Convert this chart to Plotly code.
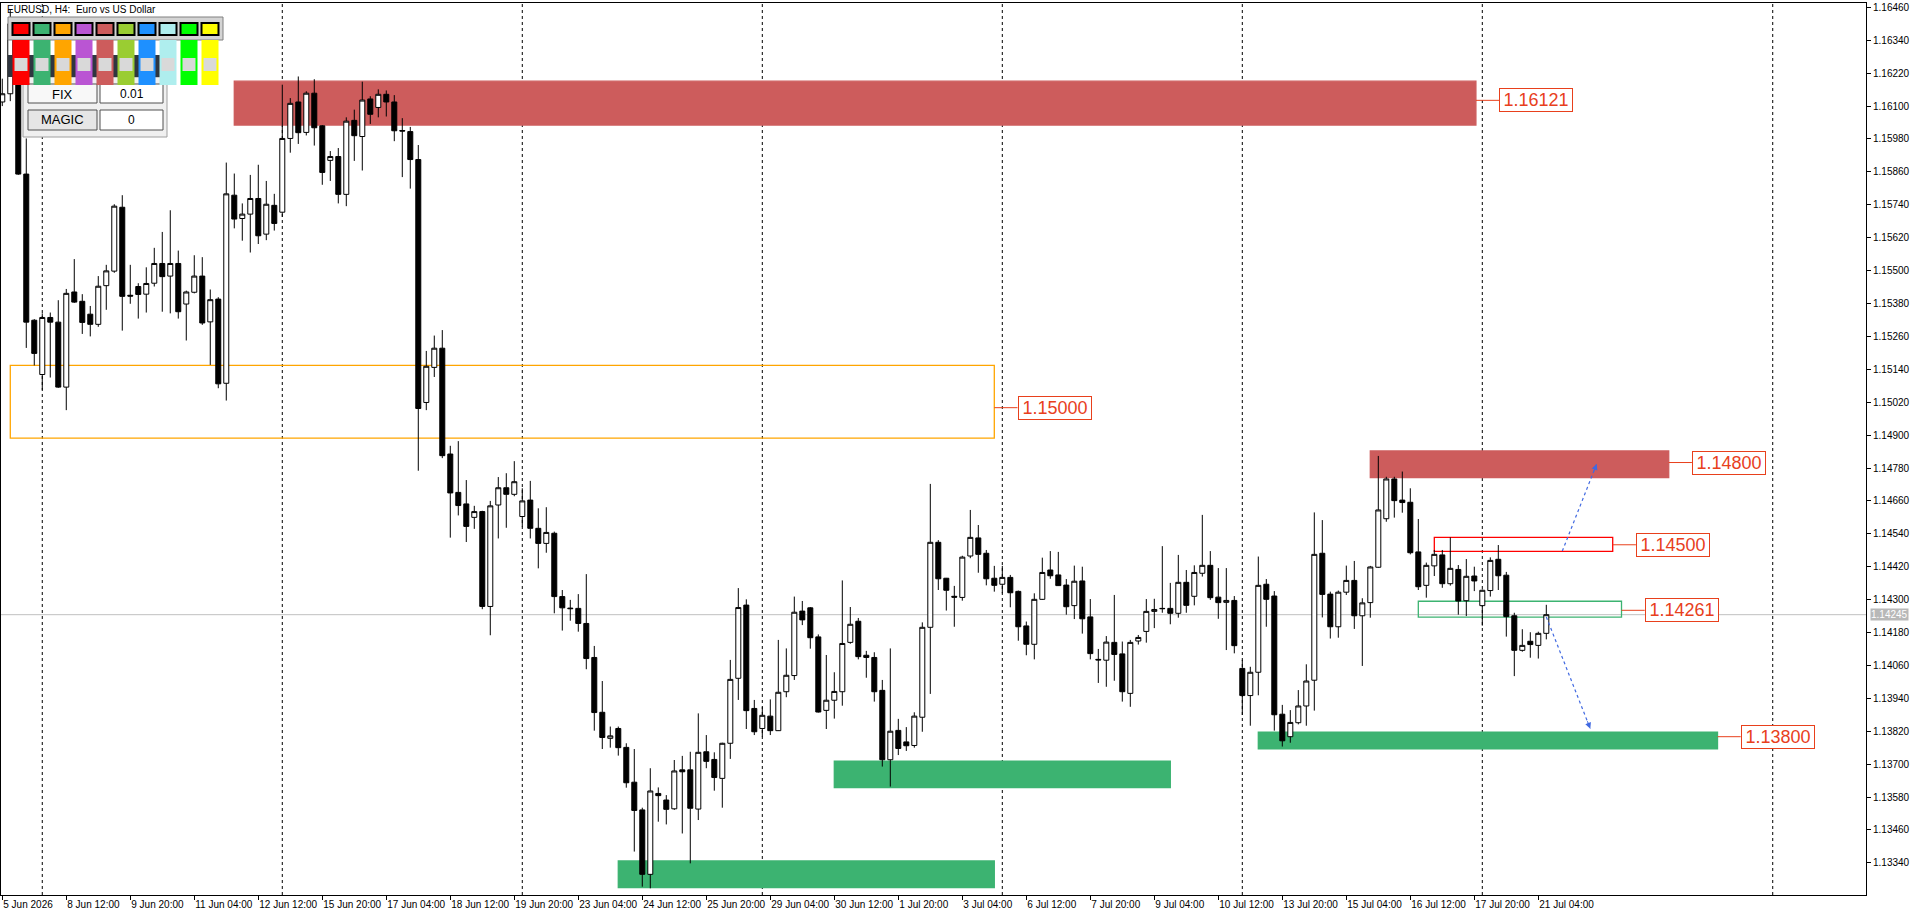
import plotly.graph_objects as go

# ---------------- data (EURUSD H4, bar index 0 = 5 Jun 2026 04:00) ----------------
opens = [1.16115, 1.16145, 1.16400, 1.15852, 1.15319, 1.15121, 1.15329, 1.15312, 1.15075, 1.15422,
         1.15388, 1.15341, 1.15304, 1.15445, 1.15498, 1.15731, 1.15410, 1.15442, 1.15414, 1.15454,
         1.15526, 1.15480, 1.15526, 1.15378, 1.15421, 1.15480, 1.15313, 1.15396, 1.15089, 1.15775,
         1.15690, 1.15706, 1.15763, 1.15633, 1.15738, 1.15713, 1.15982, 1.16115, 1.16004, 1.16147,
         1.16028, 1.15902, 1.15916, 1.15778, 1.16048, 1.15989, 1.16126, 1.16095, 1.16143, 1.16115,
         1.16011, 1.16007, 1.15905, 1.15019, 1.15147, 1.15217, 1.14831, 1.14691, 1.14649, 1.14600,
         1.14621, 1.14275, 1.14645, 1.14708, 1.14684, 1.14603, 1.14663, 1.14560, 1.14505, 1.14542,
         1.14311, 1.14269, 1.14268, 1.14213, 1.14089, 1.13889, 1.13794, 1.13830, 1.13761, 1.13634,
         1.13533, 1.13298, 1.13593, 1.13569, 1.13537, 1.13679, 1.13679, 1.13536, 1.13745, 1.13717,
         1.13648, 1.13776, 1.14013, 1.14280, 1.13903, 1.13830, 1.13875, 1.13822, 1.13964, 1.14023,
         1.14258, 1.14270, 1.14164, 1.13896, 1.13933, 1.13964, 1.14144, 1.14221, 1.14097, 1.14089,
         1.13969, 1.13716, 1.13823, 1.13781, 1.13768, 1.13871, 1.14199, 1.14509, 1.14378, 1.14312,
         1.14308, 1.14459, 1.14525, 1.14469, 1.14378, 1.14356, 1.14381, 1.14330, 1.14204, 1.14137,
         1.14301, 1.14408, 1.14390, 1.14353, 1.14278, 1.14368, 1.14237, 1.14082, 1.14079, 1.14144,
         1.14102, 1.13958, 1.14149, 1.14184, 1.14257, 1.14268, 1.14268, 1.14250, 1.14363, 1.14312,
         1.14396, 1.14425, 1.14309, 1.14290, 1.14297, 1.14049, 1.13950, 1.14035, 1.14356, 1.14313,
         1.13882, 1.13800, 1.13851, 1.13912, 1.14006, 1.14469, 1.14320, 1.14201, 1.14327, 1.14370,
         1.14241, 1.14289, 1.14418, 1.14595, 1.14740, 1.14663, 1.14655, 1.14474, 1.14352, 1.14423,
         1.14463, 1.14358, 1.14410, 1.14296, 1.14386, 1.14278, 1.14333, 1.14447, 1.14389, 1.14241,
         1.14115, 1.14148, 1.14133, 1.14177]
highs = [1.16200, 1.16450, 1.16420, 1.15982, 1.15323, 1.15344, 1.15347, 1.15392, 1.15433, 1.15542,
         1.15414, 1.15371, 1.15480, 1.15521, 1.15742, 1.15775, 1.15521, 1.15454, 1.15512, 1.15583,
         1.15641, 1.15720, 1.15573, 1.15427, 1.15556, 1.15549, 1.15431, 1.15403, 1.15894, 1.15854,
         1.15745, 1.15849, 1.15886, 1.15827, 1.15780, 1.16178, 1.16129, 1.16208, 1.16154, 1.16198,
         1.16031, 1.15936, 1.15947, 1.16059, 1.16087, 1.16189, 1.16136, 1.16161, 1.16157, 1.16140,
         1.16056, 1.16024, 1.15958, 1.15207, 1.15263, 1.15283, 1.14861, 1.14878, 1.14736, 1.14642,
         1.14624, 1.14660, 1.14747, 1.14761, 1.14805, 1.14706, 1.14733, 1.14633, 1.14637, 1.14548,
         1.14335, 1.14299, 1.14320, 1.14393, 1.14131, 1.14003, 1.13837, 1.13837, 1.13776, 1.13755,
         1.13541, 1.13685, 1.13615, 1.13587, 1.13715, 1.13730, 1.13745, 1.13885, 1.13806, 1.13743,
         1.13778, 1.14080, 1.14342, 1.14301, 1.13934, 1.13909, 1.13936, 1.14153, 1.14122, 1.14311,
         1.14295, 1.14273, 1.14173, 1.14098, 1.14035, 1.14370, 1.14273, 1.14233, 1.14113, 1.14108,
         1.14007, 1.14122, 1.13865, 1.13835, 1.13889, 1.14217, 1.14722, 1.14517, 1.14379, 1.14350,
         1.14460, 1.14627, 1.14572, 1.14481, 1.14423, 1.14423, 1.14390, 1.14333, 1.14220, 1.14323,
         1.14453, 1.14477, 1.14474, 1.14375, 1.14424, 1.14420, 1.14302, 1.14120, 1.14167, 1.14317,
         1.14147, 1.14153, 1.14171, 1.14302, 1.14303, 1.14495, 1.14361, 1.14463, 1.14408, 1.14425,
         1.14609, 1.14477, 1.14415, 1.14415, 1.14313, 1.14080, 1.14055, 1.14457, 1.14375, 1.14331,
         1.13916, 1.13897, 1.13970, 1.14064, 1.14618, 1.14590, 1.14329, 1.14333, 1.14424, 1.14441,
         1.14305, 1.14423, 1.14824, 1.14748, 1.14748, 1.14767, 1.14706, 1.14594, 1.14435, 1.14481,
         1.14481, 1.14527, 1.14426, 1.14448, 1.14420, 1.14337, 1.14454, 1.14499, 1.14401, 1.14252,
         1.14192, 1.14181, 1.14183, 1.14281]
lows = [1.16100, 1.16118, 1.15849, 1.15218, 1.15154, 1.15065, 1.15110, 1.15072, 1.14991, 1.15382,
        1.15269, 1.15260, 1.15295, 1.15357, 1.15492, 1.15281, 1.15379, 1.15325, 1.15347, 1.15442,
        1.15350, 1.15344, 1.15325, 1.15245, 1.15417, 1.15302, 1.15156, 1.15071, 1.15026, 1.15654,
        1.15609, 1.15566, 1.15597, 1.15611, 1.15646, 1.15696, 1.15930, 1.15962, 1.15993, 1.15956,
        1.15813, 1.15827, 1.15745, 1.15735, 1.15900, 1.15865, 1.16035, 1.16059, 1.16062, 1.15972,
        1.15841, 1.15799, 1.14770, 1.14991, 1.15112, 1.14816, 1.14526, 1.14607, 1.14510, 1.14558,
        1.14265, 1.14170, 1.14523, 1.14562, 1.14677, 1.14566, 1.14523, 1.14414, 1.14471, 1.14250,
        1.14187, 1.14223, 1.14183, 1.14046, 1.13822, 1.13755, 1.13760, 1.13731, 1.13614, 1.13381,
        1.13253, 1.13247, 1.13490, 1.13480, 1.13533, 1.13447, 1.13338, 1.13496, 1.13685, 1.13603,
        1.13541, 1.13719, 1.13934, 1.13828, 1.13806, 1.13800, 1.13806, 1.13821, 1.13944, 1.14007,
        1.14207, 1.14121, 1.13888, 1.13828, 1.13866, 1.13913, 1.14139, 1.14082, 1.14015, 1.13928,
        1.13691, 1.13618, 1.13733, 1.13748, 1.13760, 1.13818, 1.13956, 1.14335, 1.14260, 1.14201,
        1.14296, 1.14451, 1.14398, 1.14352, 1.14329, 1.14323, 1.14272, 1.14150, 1.14097, 1.14082,
        1.14299, 1.14376, 1.14350, 1.14245, 1.14229, 1.14176, 1.14082, 1.13996, 1.13982, 1.14004,
        1.13928, 1.13909, 1.14136, 1.14143, 1.14196, 1.14252, 1.14210, 1.14234, 1.14252, 1.14279,
        1.14384, 1.14299, 1.14230, 1.14116, 1.14104, 1.13879, 1.13840, 1.13951, 1.14201, 1.13822,
        1.13764, 1.13778, 1.13845, 1.13840, 1.13895, 1.14235, 1.14158, 1.14161, 1.14317, 1.14193,
        1.14058, 1.14234, 1.14416, 1.14584, 1.14599, 1.14617, 1.14465, 1.14335, 1.14307, 1.14386,
        1.14343, 1.14351, 1.14245, 1.14240, 1.14331, 1.14205, 1.14311, 1.14335, 1.14165, 1.14021,
        1.14110, 1.14088, 1.14085, 1.14155]
closes = [1.16145, 1.16400, 1.15852, 1.15312, 1.15198, 1.15329, 1.15312, 1.15075, 1.15417, 1.15385,
          1.15311, 1.15304, 1.15443, 1.15499, 1.15735, 1.15406, 1.15407, 1.15413, 1.15453, 1.15526,
          1.15478, 1.15526, 1.15350, 1.15422, 1.15480, 1.15309, 1.15394, 1.15087, 1.15780, 1.15688,
          1.15706, 1.15763, 1.15627, 1.15742, 1.15672, 1.15982, 1.16110, 1.16003, 1.16147, 1.16021,
          1.15858, 1.15916, 1.15778, 1.16045, 1.15992, 1.16122, 1.16070, 1.16143, 1.16115, 1.16010,
          1.16009, 1.15905, 1.14997, 1.15151, 1.15217, 1.14825, 1.14689, 1.14643, 1.14567, 1.14621,
          1.14275, 1.14642, 1.14708, 1.14684, 1.14730, 1.14660, 1.14560, 1.14505, 1.14545, 1.14311,
          1.14270, 1.14267, 1.14213, 1.14085, 1.13888, 1.13797, 1.13803, 1.13760, 1.13632, 1.13531,
          1.13298, 1.13602, 1.13585, 1.13535, 1.13675, 1.13672, 1.13539, 1.13743, 1.13710, 1.13651,
          1.13776, 1.14009, 1.14271, 1.13895, 1.13818, 1.13878, 1.13822, 1.13962, 1.14024, 1.14254,
          1.14226, 1.14161, 1.13890, 1.13933, 1.13965, 1.14140, 1.14210, 1.14092, 1.14089, 1.13964,
          1.13716, 1.13820, 1.13757, 1.13767, 1.13875, 1.14199, 1.14509, 1.14376, 1.14334, 1.14309,
          1.14455, 1.14527, 1.14465, 1.14376, 1.14352, 1.14381, 1.14325, 1.14201, 1.14137, 1.14301,
          1.14399, 1.14387, 1.14351, 1.14274, 1.14367, 1.14230, 1.14103, 1.14080, 1.14145, 1.14100,
          1.13964, 1.14144, 1.14162, 1.14257, 1.14264, 1.14267, 1.14250, 1.14363, 1.14279, 1.14399,
          1.14425, 1.14307, 1.14289, 1.14297, 1.14132, 1.13950, 1.14035, 1.14352, 1.14301, 1.13880,
          1.13785, 1.13852, 1.13912, 1.14003, 1.14465, 1.14319, 1.14201, 1.14327, 1.14370, 1.14241,
          1.14288, 1.14419, 1.14627, 1.14740, 1.14661, 1.14654, 1.14471, 1.14347, 1.14425, 1.14465,
          1.14358, 1.14414, 1.14295, 1.14385, 1.14368, 1.14334, 1.14443, 1.14387, 1.14238, 1.14115,
          1.14133, 1.14136, 1.14177, 1.14245]
bars = list(range(len(opens)))

x_tick_bars = [0, 8, 16, 24, 32, 40, 48, 56, 64, 72, 80, 88, 96, 104, 112, 120, 128, 136, 144, 152,
               160, 168, 176, 184, 192]
x_tick_labels = ["5 Jun 2026", "8 Jun 12:00", "9 Jun 20:00", "11 Jun 04:00", "12 Jun 12:00",
                 "15 Jun 20:00", "17 Jun 04:00", "18 Jun 12:00", "19 Jun 20:00", "23 Jun 04:00",
                 "24 Jun 12:00", "25 Jun 20:00", "29 Jun 04:00", "30 Jun 12:00", "1 Jul 20:00",
                 "3 Jul 04:00", "6 Jul 12:00", "7 Jul 20:00", "9 Jul 04:00", "10 Jul 12:00",
                 "13 Jul 20:00", "15 Jul 04:00", "16 Jul 12:00", "17 Jul 20:00", "21 Jul 04:00"]
y_tick_values = [1.13340, 1.13460, 1.13580, 1.13700, 1.13820, 1.13940, 1.14060, 1.14180, 1.14300,
                 1.14420, 1.14540, 1.14660, 1.14780, 1.14900, 1.15020, 1.15140, 1.15260, 1.15380,
                 1.15500, 1.15620, 1.15740, 1.15860, 1.15980, 1.16100, 1.16220, 1.16340, 1.16460]

week_separator_bars = [5, 35, 65, 95, 125, 155, 185, 221.3]
bid_price = 1.14245

# drawn zones (start bar, end bar, top price, bottom price, level label)
zone_start = [29, 1, 171, 179, 177, 157, 77, 104]
zone_end = [184.2, 124, 208.3, 201.3, 202.4, 214.4, 124, 146]
zone_top = [1.16191, 1.15154, 1.14842, 1.14527, 1.14294, 1.13817, 1.13347, 1.13711]
zone_bottom = [1.16031, 1.14889, 1.14745, 1.14476, 1.14236, 1.13756, 1.13250, 1.13614]
zone_level = [1.16121, 1.15000, 1.14800, 1.14500, 1.14261, 1.13800, None, None]

# projection arrows (bar, price) start -> end
arrow_x = [[195.0, 199.3], [193.0, 198.5]]
arrow_y = [[1.14477, 1.14795], [1.14237, 1.13829]]

panel_colors = ["#FF0000", "#3CB371", "#FFA500", "#BA55D3", "#CD5C5C",
                "#9ACD32", "#1E90FF", "#AFEEEE", "#00FF00", "#FFFF00"]

# ---------------- styles ----------------
zone_styles = [
    dict(fill="#CD5C5C", line="#CD5C5C"),
    dict(fill="rgba(0,0,0,0)", line="#FFA500"),
    dict(fill="#CD5C5C", line="#CD5C5C"),
    dict(fill="rgba(0,0,0,0)", line="#FF0000"),
    dict(fill="rgba(0,0,0,0)", line="#3CB371"),
    dict(fill="#3CB371", line="#3CB371"),
    dict(fill="#3CB371", line="#3CB371"),
    dict(fill="#3CB371", line="#3CB371"),
]
LABEL_COLOR = "#E8401C"
LABEL_GAP = 2.9
FONT = "Liberation Sans"

W, H = 1920, 915
ML, MR, MT, MB = 1, 54, 3, 20
PW, PH = W - ML - MR, H - MT - MB


def PX(x):
    return (x - ML) / PW


def PY(y):
    return 1 - (y - MT) / PH


fig = go.Figure()

fig.add_trace(go.Candlestick(
    x=bars, open=opens, high=highs, low=lows, close=closes,
    increasing=dict(line=dict(color="black", width=1), fillcolor="white"),
    decreasing=dict(line=dict(color="black", width=1), fillcolor="black"),
    whiskerwidth=0, hoverinfo="skip", showlegend=False,
))

shapes = []
annotations = []

# week separators
for b in week_separator_bars:
    shapes.append(dict(type="line", xref="x", yref="paper", x0=b, x1=b, y0=0, y1=1,
                       line=dict(color="black", width=1, dash="3px,3px"), layer="below"))

# bid line
shapes.append(dict(type="line", xref="paper", yref="y", x0=0, x1=1, y0=bid_price, y1=bid_price,
                   line=dict(color="#C0C0C0", width=1), layer="below"))

# zones
for k in range(len(zone_start)):
    st = zone_styles[k]
    shapes.append(dict(type="rect", xref="x", yref="y", x0=zone_start[k], x1=zone_end[k],
                       y0=zone_bottom[k], y1=zone_top[k], fillcolor=st["fill"],
                       line=dict(color=st["line"], width=1.3), layer="below"))
    lvl = zone_level[k]
    if lvl is not None:
        shapes.append(dict(type="line", xref="x", yref="y", x0=zone_end[k], x1=zone_end[k] + LABEL_GAP,
                           y0=lvl, y1=lvl, line=dict(color=LABEL_COLOR, width=1), layer="above"))
        annotations.append(dict(xref="x", yref="y", x=zone_end[k] + LABEL_GAP, y=lvl,
                                xanchor="left", yanchor="middle", text=f"{lvl:.5f}", showarrow=False,
                                font=dict(family=FONT, size=18, color=LABEL_COLOR),
                                bgcolor="white", bordercolor=LABEL_COLOR, borderwidth=1, borderpad=1,
                                width=70, height=20))

# arrows
for xs, ys in zip(arrow_x, arrow_y):
    fig.add_trace(go.Scatter(x=xs, y=ys, mode="lines", hoverinfo="skip", showlegend=False,
                             line=dict(color="#4169E1", width=1.2, dash="dot")))
    up = ys[1] > ys[0]
    annotations.append(dict(xref="x", yref="y", x=xs[1], y=ys[1], ax=-3.5, ay=9 if up else -9,
                            axref="pixel", ayref="pixel", text="", showarrow=True, arrowhead=2,
                            arrowsize=1.2, arrowwidth=1, arrowcolor="#4169E1"))

# bid label on axis
annotations.append(dict(xref="paper", yref="y", x=1, y=bid_price, xanchor="left", yanchor="middle",
                        xshift=4, text=f"{bid_price:.5f}", showarrow=False, bgcolor="#B8B8B8",
                        font=dict(family=FONT, size=10, color="white"), borderpad=0))

# title
annotations.append(dict(xref="paper", yref="paper", x=PX(5), y=PY(9), xanchor="left", yanchor="middle",
                        text="EURUSD, H4:\u00a0 Euro vs US Dollar", showarrow=False,
                        font=dict(family=FONT, size=10, color="black")))


# ---------------- trading panel (top-left UI) ----------------
def rect_px(x0, y0, x1, y1, fill, line=None, lw=0):
    shapes.append(dict(type="rect", xref="paper", yref="paper", x0=PX(x0), x1=PX(x1),
                       y0=PY(y1), y1=PY(y0), fillcolor=fill,
                       line=dict(color=line if line else fill, width=lw), layer="above"))


def text_px(x, y, s, size=12):
    annotations.append(dict(xref="paper", yref="paper", x=PX(x), y=PY(y), xanchor="center",
                            yanchor="middle", text=s, showarrow=False,
                            font=dict(family=FONT, size=size, color="black")))


# lower panel with buttons
rect_px(23, 77, 167, 137, "#F0F0F0", "#A0A0A0", 1)
rect_px(28, 84, 97, 103, "#F8F8F8", "#505050", 1)
rect_px(100, 84, 163, 103, "#FFFFFF", "#505050", 1)
rect_px(28, 110, 97, 130, "#E6E6E6", "#505050", 1)
rect_px(100, 110, 163, 130, "#FFFFFF", "#505050", 1)
text_px(62.5, 94, "FIX", 13)
text_px(131.5, 94, "0.01", 12)
text_px(62.5, 120, "MAGIC", 13)
text_px(131.5, 120, "0", 12)

# colour toolbar
rect_px(8, 17, 223, 40, "#D4D4D4", "#808080", 1)
rect_px(8, 55, 167, 77, "#2F3640")
for k, c in enumerate(panel_colors):
    x0 = 12.5 + 21 * k
    rect_px(x0, 23, x0 + 17, 35, c, "black", 2)
    rect_px(x0, 40, x0 + 17, 85, c)
    rect_px(x0 + 2, 58, x0 + 15, 71, "#D9D9D9")

fig.update_layout(
    width=W, height=H,
    margin=dict(l=ML, r=MR, t=MT, b=MB, pad=0, autoexpand=False),
    paper_bgcolor="white", plot_bgcolor="white",
    showlegend=False,
    boxgap=0.375, boxgroupgap=0,
    shapes=shapes, annotations=annotations,
    xaxis=dict(range=[-0.16, 232.96], showgrid=False, zeroline=False, rangeslider=dict(visible=False),
               showline=True, linecolor="black", linewidth=1, mirror=True, automargin=False,
               ticks="outside", ticklen=4, tickcolor="black", tickwidth=1, tickangle=0,
               tickvals=x_tick_bars, ticktext=x_tick_labels, ticklabelposition="outside right",
               tickfont=dict(family=FONT, size=10, color="black"), fixedrange=True),
    yaxis=dict(range=[1.132226, 1.164760], side="right", showgrid=False, zeroline=False,
               showline=True, linecolor="black", linewidth=1, mirror=True, automargin=False,
               ticks="outside", ticklen=4, tickcolor="black", tickwidth=1,
               tickvals=y_tick_values, ticktext=[f"{v:.5f}" for v in y_tick_values],
               tickfont=dict(family=FONT, size=10, color="black"), fixedrange=True),
)

fig.write_html("out.html", config={"displayModeBar": False},
               post_script="document.body.style.margin='0';document.body.style.overflow='hidden';")
